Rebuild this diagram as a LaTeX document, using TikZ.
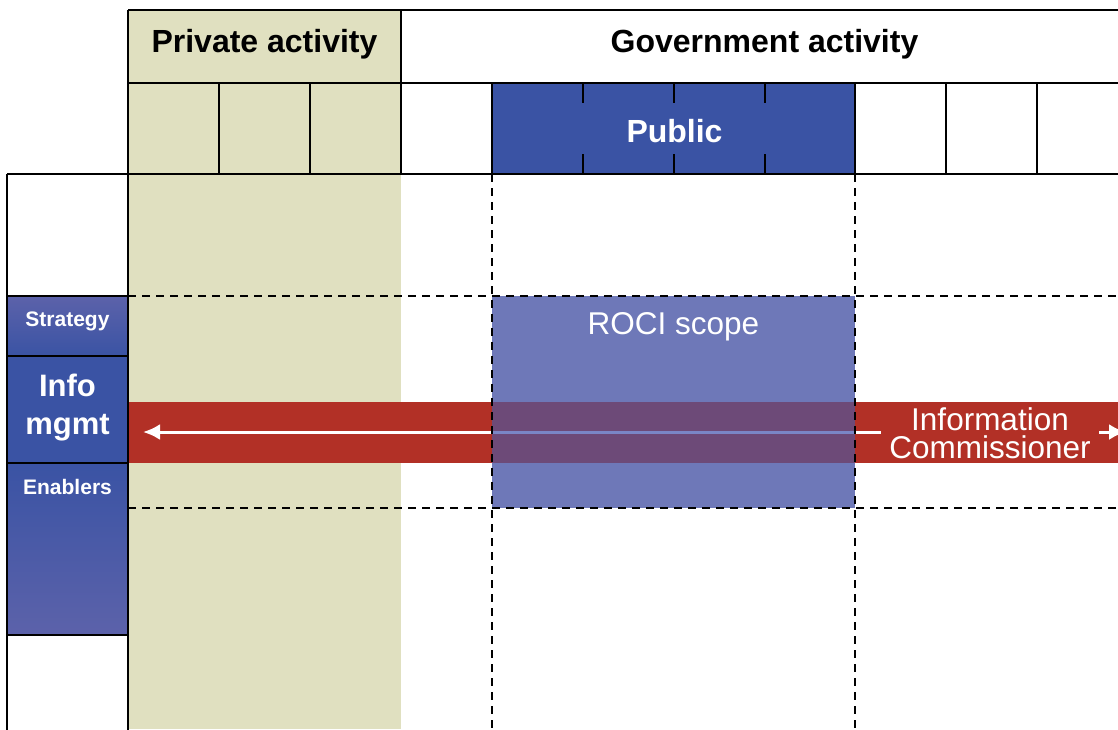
\documentclass[tikz,border=0pt]{standalone}
\usepackage{fontspec}
\setmainfont{Liberation Sans}
\usetikzlibrary{calc,arrows.meta}

\definecolor{beige}{RGB}{224,224,192}
\definecolor{pubblue}{RGB}{58,83,164}
\definecolor{paleblue}{RGB}{92,98,170}
\definecolor{rocifill}{RGB}{110,120,184}
\definecolor{bandred}{RGB}{178,48,38}
\definecolor{overlap}{RGB}{109,74,120}
\definecolor{lineblue}{RGB}{122,134,198}

\begin{document}
\begin{tikzpicture}[x=1pt, y=-1pt,
    grid/.style = {black, line width=2.5pt},
    dashline/.style = {black, line width=2pt, dash pattern=on 8pt off 6pt},
    head/.style = {font=\bfseries\fontsize{32}{36}\selectfont},
    side/.style = {white, font=\bfseries\fontsize{21}{24}\selectfont},
    big/.style = {white, font=\fontsize{31.5}{28.5}\selectfont}]
      \useasboundingbox (0,0) rectangle (1118,729);
      \clip (0,0) rectangle (1118,729);
      \fill[white] (0,0) rectangle (1118,729);
      % fills
      \fill[beige] (128,10) rectangle (401,729);
      \fill[pubblue] (492,83) rectangle (855,174);
      \fill[rocifill] (492,296) rectangle (855,508);
      \fill[bandred] (128,402) rectangle (1118,463);
      \fill[overlap] (492,402) rectangle (855,463);
      \shade[top color=paleblue, bottom color=pubblue] (7,296) rectangle (128,356);
      \fill[pubblue] (7,356) rectangle (128,463);
      \shade[top color=pubblue, bottom color=paleblue] (7,463) rectangle (128,635);
      % two-way arrow
      \coordinate (arrL) at (143,432);
      \coordinate (arrR) at (1126,432);
      \draw[white, line width=3pt, {Latex[length=17pt,width=16pt]}-{Latex[length=17pt,width=16pt]}]
              (arrL) -- (arrR);
      \draw[lineblue, line width=3pt] (492,432) -- (855,432);
      \node[big, fill=bandred, inner xsep=8pt, inner ysep=0pt, align=center]
              (ico) at (990,433) {Information\\Commissioner};
      % dashed guides
      \foreach \y in {296,508}{
        \draw[dashline] (128,\y) -- (1130,\y);
      }
      \foreach \x in {492,855}{
        \draw[dashline] (\x,174) -- (\x,740);
      }
      % solid grid
      \draw[grid] (128,10) -- (1130,10);
      \draw[grid] (128,83) -- (1130,83);
      \draw[grid] (7,174) -- (1130,174);
      \draw[grid] (128,10) -- (128,740);
      \draw[grid] (401,10) -- (401,174);
      \draw[grid] (7,174) -- (7,740);
      \foreach \x in {219,310,492,855,946,1037}{
        \draw[grid] (\x,83) -- (\x,174);
      }
      \foreach \x in {583,674,765}{
        \draw[grid] (\x,83) -- (\x,103);
        \draw[grid] (\x,154) -- (\x,174);
      }
      \foreach \y in {296,356,463,635}{
        \draw[grid] (7,\y) -- (128,\y);
      }
      % labels
      \node[head] (priv) at (264.5,44) {Private activity};
      \node[head] (gov) at (764.5,44) {Government activity};
      \node[head, white] (pub) at (674.5,131) {Public};
      \node[big] (roci) at (673.5,327) {ROCI scope};
      \node[side] (strat) at (67.5,321) {Strategy};
      \node[white, align=center, font=\bfseries\fontsize{31}{38}\selectfont]
              (info) at (67.5,408) {Info\\mgmt};
      \node[side] (enab) at (67.5,486.5) {Enablers};
    \end{tikzpicture}
\end{document}
